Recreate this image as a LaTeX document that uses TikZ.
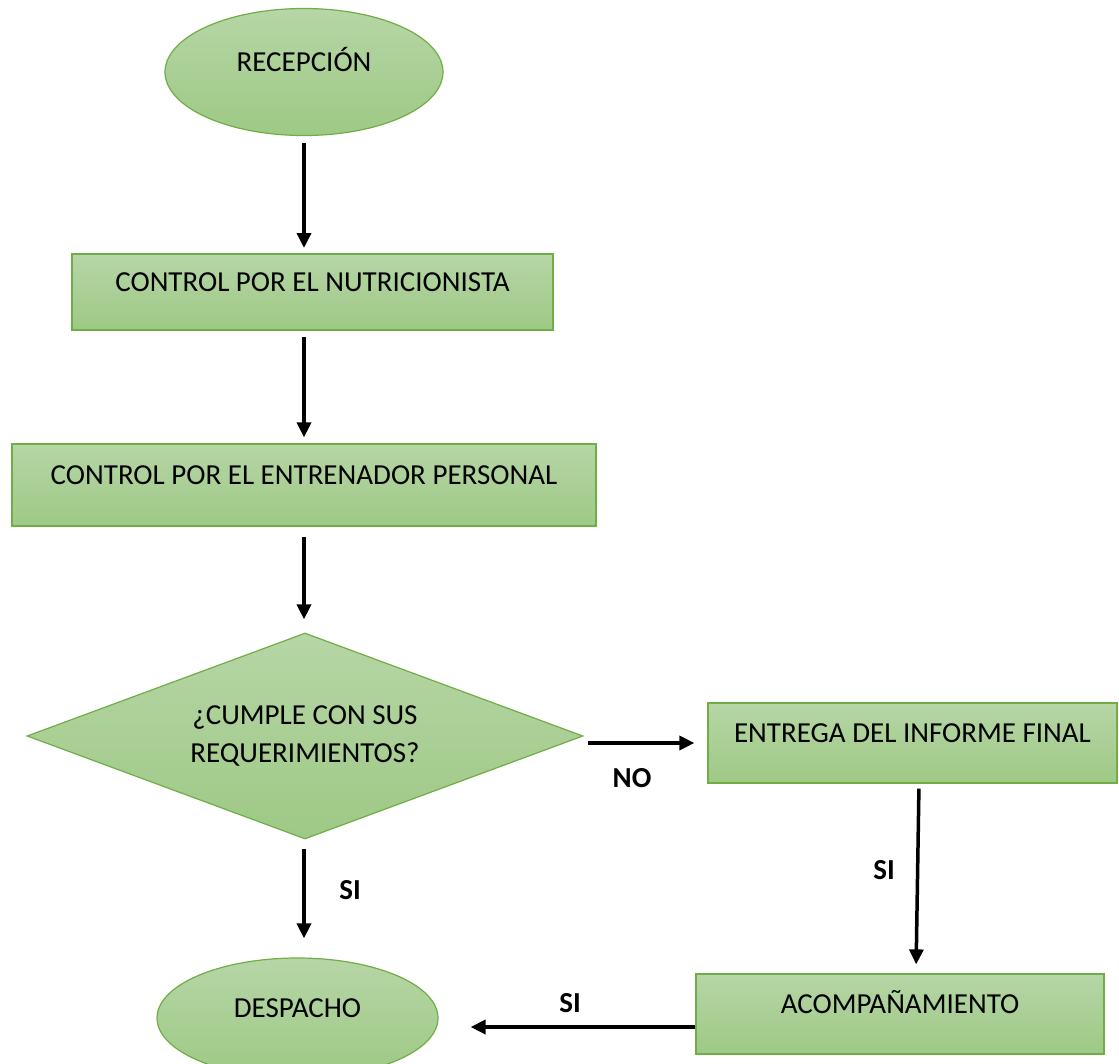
\documentclass[tikz,border=0pt]{standalone}
\usepackage{fontspec}
\setmainfont{Carlito}
\usetikzlibrary{shapes.geometric,arrows.meta}

\definecolor{fillTop}{RGB}{182,214,166}
\definecolor{fillBot}{RGB}{158,201,133}
\definecolor{edgeGreen}{RGB}{112,173,71}

\tikzset{
  shapebase/.style={draw=edgeGreen, line width=1.2pt, top color=fillTop, bottom color=fillBot,
    font=\fontsize{29}{38}\selectfont, text height=19pt, text depth=20pt, inner sep=0pt},
  procbox/.style={shapebase, rectangle},
  termnode/.style={shapebase, ellipse},
  decide/.style={draw=edgeGreen, line width=1.2pt, top color=fillTop, bottom color=fillBot,
    diamond, aspect=2.7, inner sep=0pt, align=center, font=\fontsize{29}{38}\selectfont},
  flow/.style={line width=3.5pt, -{Triangle[length=15pt,width=14pt]}},
  tag/.style={font=\fontsize{29}{34}\selectfont\bfseries, inner sep=0pt}
}

\begin{document}
\begin{tikzpicture}[x=1pt, y=-1pt]
  \useasboundingbox (0,0) rectangle (1119,1063);

  % process steps
  \node[termnode, minimum width=278pt, minimum height=127pt] (rec) at (304,72) {RECEPCIÓN};
  \node[procbox, minimum width=481pt, minimum height=76pt] (nut) at (312.5,292) {CONTROL POR EL NUTRICIONISTA};
  \node[procbox, minimum width=584pt, minimum height=82pt] (ent) at (304,485) {CONTROL POR EL ENTRENADOR PERSONAL};
  \node[decide, minimum width=556pt, minimum height=206pt] (dec) at (305,736)
    {¿CUMPLE CON SUS\\REQUERIMIENTOS?};
  \node[procbox, minimum width=409pt, minimum height=80pt] (inf) at (912.5,743) {ENTREGA DEL INFORME FINAL};
  \node[procbox, minimum width=408pt, minimum height=80pt] (aco) at (900,1014) {ACOMPAÑAMIENTO};
  \node[termnode, minimum width=281pt, minimum height=120pt] (des) at (297.5,1018) {DESPACHO};

  % connectors
  \draw[flow, shorten <=7pt, shorten >=6pt] (rec.south -| 304,0) -- (304,254);
  \draw[flow, shorten <=6pt, shorten >=6pt] (nut.south -| rec.south) -- (ent.north -| rec.south);
  \draw[flow, shorten <=10pt, shorten >=13pt] (ent.south -| rec.south) -- (dec.north -| rec.south);
  \draw[flow, shorten <=4pt, shorten >=13pt] (dec.east |- inf.west) -- (inf.west);
  \draw[flow, shorten <=9pt, shorten >=19pt] (dec.south -| rec.south) -- (des.north -| rec.south);
  \draw[flow, shorten <=5pt, shorten >=9pt] ([xshift=6.5pt]inf.south) -- ([xshift=16pt]aco.north);
  \draw[flow, shorten >=32pt] ([yshift=-13pt]aco.west) -- ([yshift=-13pt]aco.west -| des.east);

  % branch labels
  \node[tag] (lno) at (632,778) {NO};
  \node[tag] (lsi1) at (350,890) {SI};
  \node[tag] (lsi2) at (884,870) {SI};
  \node[tag] (lsi3) at (570,1003) {SI};
\end{tikzpicture}
\end{document}
